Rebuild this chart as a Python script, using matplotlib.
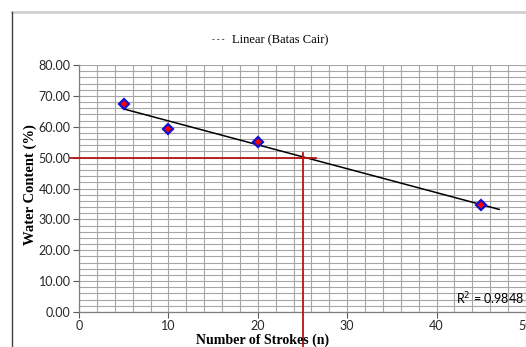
import numpy as np
import matplotlib
matplotlib.use("Agg")
import matplotlib.pyplot as plt
from matplotlib.lines import Line2D

# data
strokes = [5, 10, 20, 45]
water = [67.3, 59.4, 55.2, 34.7]
r2_label = "R$^2$ = 0.9848"
legend_label = "Linear (Batas Cair)"
ll_strokes = 25
ll_water = 50.0

fig = plt.figure(figsize=(5.26, 3.47), dpi=100)
W, H = 526.0, 347.0
ax = fig.add_axes([79 / W, 35 / H, (526 - 79) / W, (312 - 65) / H])

ax.set_xlim(0, 50)
ax.set_ylim(0, 80)
ax.set_xticks(np.arange(0, 51, 10))
ax.set_yticks(np.arange(0, 81, 10))
ax.set_xticks(np.arange(0, 51, 2), minor=True)
ax.set_yticks(np.arange(0, 81, 2), minor=True)
ax.set_yticklabels(["%.2f" % v for v in np.arange(0, 81, 10)])
ax.grid(True, which="both", color="#a6a6a6", lw=0.8)
ax.set_axisbelow(True)
ax.tick_params(which="minor", length=0)
ax.tick_params(which="major", length=4, color="#595959", width=0.8,
               labelsize=9, pad=2, labelcolor="#262626")
for lab in ax.get_xticklabels() + ax.get_yticklabels():
    lab.set_fontfamily("Lato")
for s in ["top", "right"]:
    ax.spines[s].set_visible(False)
for s in ["left", "bottom"]:
    ax.spines[s].set_color("#7f7f7f")
    ax.spines[s].set_linewidth(0.9)

# trend line
k, b = np.polyfit(strokes, water, 1)
xt = np.array([min(strokes), max(strokes) + 2])
ax.plot(xt, k * xt + b, color="black", lw=1.1, zorder=3)

# liquid limit guides
ax.plot([-1, ll_strokes + 1.5], [ll_water, ll_water], color="#b81414", lw=1.3,
        clip_on=False, zorder=4)
ax.plot([ll_strokes, ll_strokes], [ll_water + 1.6, -11.5], color="#b81414", lw=1.3,
        clip_on=False, zorder=4)

ax.plot(strokes, water, ls="none", marker="D", ms=5.5, mfc="red", mec="#1010d0",
        mew=1.6, zorder=5)

ax.text(0.995, 0.055, r2_label, transform=ax.transAxes, ha="right", va="center",
        fontsize=9, family="Lato")

fig.text(30 / W, 1 - 185 / H, "Water Content (%)", rotation=90, ha="center",
         va="center", family="Liberation Serif", weight="bold", fontsize=10.5)
fig.text(263 / W, 1 - 340 / H, "Number of Strokes (n)", ha="center", va="center",
         family="Liberation Serif", weight="bold", fontsize=10)

fig.text(218 / W, 1 - 40 / H, "- - -", ha="center", va="center",
         family="Liberation Serif", fontsize=6)
fig.text(232 / W, 1 - 40 / H, legend_label, ha="left", va="center",
         family="Liberation Serif", fontsize=9)

# chart frame
fig.add_artist(Line2D([12 / W, 1], [1 - 12 / H, 1 - 12 / H], color="#d0d0d0", lw=2))
fig.add_artist(Line2D([12 / W, 12 / W], [0, 1 - 12 / H], color="#404040", lw=1))

fig.savefig("out.png", dpi=100)
